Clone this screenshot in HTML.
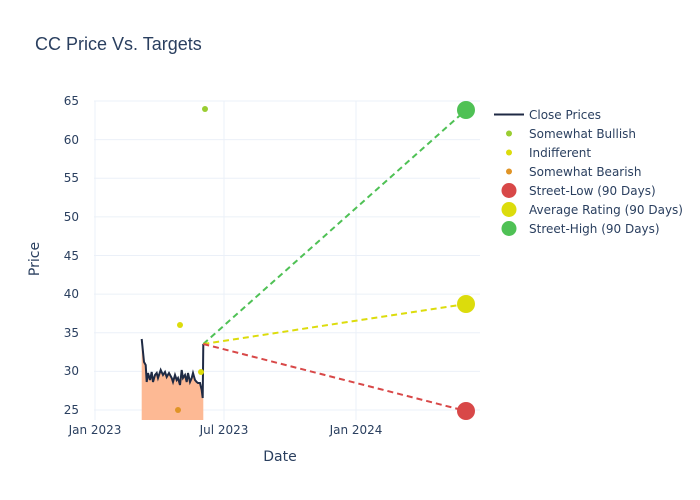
<!DOCTYPE html>
<html><head><style>body{margin:0;background:#fff}svg{display:block}text{font-family:"DejaVu Sans","Liberation Sans",sans-serif;fill:#2a3f5f}</style></head>
<body>
<svg width="700" height="500" viewBox="0 0 700 500">
<rect width="700" height="500" fill="#fff"/>
<text x="35" y="50" font-size="18" style="font-family:'Liberation Sans',sans-serif">CC Price Vs. Targets</text>
<g stroke="#ebf0f8" stroke-width="1">
<line x1="94" x2="480" y1="101" y2="101"/><line x1="94" x2="480" y1="139.6" y2="139.6"/><line x1="94" x2="480" y1="178.3" y2="178.3"/><line x1="94" x2="480" y1="216.9" y2="216.9"/><line x1="94" x2="480" y1="255.5" y2="255.5"/><line x1="94" x2="480" y1="294.1" y2="294.1"/><line x1="94" x2="480" y1="332.8" y2="332.8"/><line x1="94" x2="480" y1="371.4" y2="371.4"/><line x1="94" x2="480" y1="410" y2="410"/>
<line x1="95" x2="95" y1="101" y2="420"/><line x1="224" x2="224" y1="101" y2="420"/><line x1="356" x2="356" y1="101" y2="420"/>
</g>
<g font-size="12" text-anchor="end">
<text x="79" y="105">65</text><text x="79" y="144">60</text><text x="79" y="182">55</text><text x="79" y="221">50</text><text x="79" y="260">45</text><text x="79" y="298">40</text><text x="79" y="337">35</text><text x="79" y="375">30</text><text x="79" y="414">25</text>
</g>
<g font-size="12" text-anchor="middle">
<text x="95" y="434">Jan 2023</text><text x="224" y="434">Jul 2023</text><text x="356" y="434">Jan 2024</text>
</g>
<text x="280" y="461" font-size="14" text-anchor="middle">Date</text>
<text x="39" y="259" font-size="14" text-anchor="middle" transform="rotate(-90 39 259)">Price</text>
<polygon fill="#fdb994" points="141.7,339 144,362 145.7,365 146.7,382 148,373 150,380 151.7,372 153,382 155,375 156.7,373 158,378 160.7,370 163,375 165,372 166.7,377 169,373 171.7,378 173,382 175,375 176.7,380 178,378 180,385 181.7,370 183,378 185,375 186.7,382 188,373 190,382 191.7,378 193,373 195,380 196.7,382 198,383 200,383 201.7,390 202.7,398 203.3,344 203.3,420 141.7,420"/>
<polyline fill="none" stroke="#1f2a44" stroke-width="2" points="141.7,339 144,362 145.7,365 146.7,382 148,373 150,380 151.7,372 153,382 155,375 156.7,373 158,378 160.7,370 163,375 165,372 166.7,377 169,373 171.7,378 173,382 175,375 176.7,380 178,378 180,385 181.7,370 183,378 185,375 186.7,382 188,373 190,382 191.7,378 193,373 195,380 196.7,382 198,383 200,383 201.7,390 202.7,398 203.3,344"/>
<g stroke-width="2" stroke-dasharray="6,4">
<line x1="203.3" y1="344" x2="466" y2="110" stroke="#4fc155"/>
<line x1="203.3" y1="344" x2="466" y2="304" stroke="#dcdc0c"/>
<line x1="203.3" y1="344" x2="466" y2="411" stroke="#d84848"/>
</g>
<circle cx="205" cy="109" r="3" fill="#9acd32"/>
<circle cx="180" cy="325" r="3" fill="#dcdc0c"/>
<circle cx="201" cy="372" r="3" fill="#dcdc0c"/>
<circle cx="178" cy="410" r="3" fill="#e09426"/>
<circle cx="466" cy="110" r="9" fill="#4fc155"/>
<circle cx="466" cy="304" r="9" fill="#dcdc0c"/>
<circle cx="466" cy="411" r="9" fill="#d84848"/>
<g font-size="12">
<line x1="494" x2="524" y1="114.5" y2="114.5" stroke="#1f2a44" stroke-width="2"/><text x="529" y="119">Close Prices</text>
<circle cx="509" cy="133.5" r="3" fill="#9acd32"/><text x="529" y="138">Somewhat Bullish</text>
<circle cx="509" cy="152.5" r="3" fill="#dcdc0c"/><text x="529" y="157">Indifferent</text>
<circle cx="509" cy="171.5" r="3" fill="#e09426"/><text x="529" y="176">Somewhat Bearish</text>
<circle cx="509" cy="190.5" r="7.5" fill="#d84848"/><text x="529" y="195">Street-Low (90 Days)</text>
<circle cx="509" cy="209.5" r="7.5" fill="#dcdc0c"/><text x="529" y="214">Average Rating (90 Days)</text>
<circle cx="509" cy="228.5" r="7.5" fill="#4fc155"/><text x="529" y="233">Street-High (90 Days)</text>
</g>
</svg>
</body></html>
